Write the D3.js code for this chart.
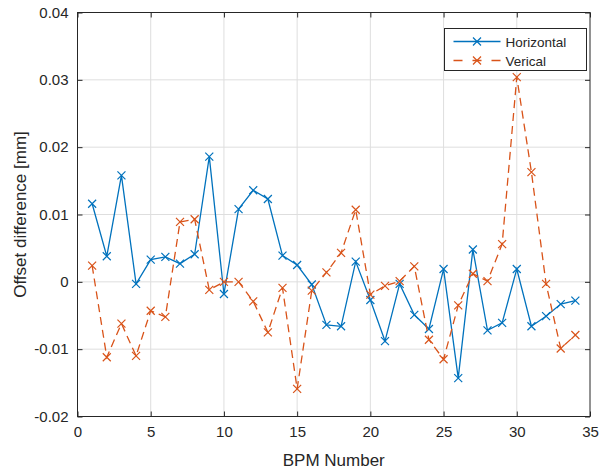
<!DOCTYPE html>
<html>
<head>
<meta charset="utf-8">
<script src="https://cdn.jsdelivr.net/npm/d3@7"></script>
<style>
  body { margin: 0; background: #fff; }
  text { font-family: "Liberation Sans", Arial, sans-serif; fill: #262626; }
</style>
</head>
<body>
<div id="chart"></div>
<script>
var bpm = d3.range(1, 35);

var horizontal = [0.0116, 0.0038, 0.0158, -0.0003, 0.0033, 0.0037, 0.0027, 0.0041, 0.0186, -0.0018,
  0.0108, 0.0136, 0.0123, 0.0039, 0.0025, -0.0004, -0.0064, -0.0066, 0.0030, -0.0027,
  -0.0088, -0.0003, -0.0049, -0.0070, 0.0019, -0.0143, 0.0048, -0.0072, -0.0061, 0.0019,
  -0.0066, -0.0051, -0.0033, -0.0028];

var vertical = [0.0024, -0.0112, -0.0062, -0.0110, -0.0043, -0.0052, 0.0089, 0.0093, -0.0012, 0.0000,
  0.0000, -0.0029, -0.0075, -0.0009, -0.0159, -0.0013, 0.0014, 0.0043, 0.0107, -0.0019,
  -0.0006, 0.0001, 0.0023, -0.0086, -0.0115, -0.0035, 0.0012, 0.0001, 0.0056, 0.0304,
  0.0163, -0.0003, -0.0099, -0.0079];

var xTicks = [0, 5, 10, 15, 20, 25, 30, 35];
var yTicks = [-0.02, -0.01, 0, 0.01, 0.02, 0.03, 0.04];
var yTickLabels = ["-0.02", "-0.01", "0", "0.01", "0.02", "0.03", "0.04"];

var svgWidth = 600;
var svgHeight = 473;
var margin = { top: 12.5, right: 10, bottom: 56.5, left: 77.5 };
var width = svgWidth - margin.left - margin.right;
var height = svgHeight - margin.top - margin.bottom;

var svg = d3.select("#chart").append("svg")
  .attr("width", svgWidth)
  .attr("height", svgHeight);

var chartGroup = svg.append("g")
  .attr("transform", `translate(${margin.left}, ${margin.top})`);

var xScale = d3.scaleLinear().domain([0, 35]).range([0, width]);
var yScale = d3.scaleLinear().domain([-0.02, 0.04]).range([height, 0]);

// grid
chartGroup.append("g").selectAll("line")
  .data(xTicks.slice(1, -1))
  .enter().append("line")
  .attr("x1", d => xScale(d)).attr("x2", d => xScale(d))
  .attr("y1", 0).attr("y2", height)
  .attr("stroke", "#dedede").attr("stroke-width", 1);

chartGroup.append("g").selectAll("line")
  .data(yTicks.slice(1, -1))
  .enter().append("line")
  .attr("x1", 0).attr("x2", width)
  .attr("y1", d => yScale(d)).attr("y2", d => yScale(d))
  .attr("stroke", "#dedede").attr("stroke-width", 1);

// axes (ticks inside, box on)
function styleAxis(g) {
  g.select(".domain").remove();
  g.selectAll("line").attr("stroke", "#262626");
  g.selectAll("text").style("font-size", "15px").attr("fill", "#262626");
}

chartGroup.append("g")
  .attr("transform", `translate(0, ${height})`)
  .call(d3.axisBottom(xScale).tickValues(xTicks).tickSizeInner(-5).tickSizeOuter(0).tickPadding(10))
  .call(styleAxis);

chartGroup.append("g")
  .call(d3.axisTop(xScale).tickValues(xTicks).tickSizeInner(-5).tickSizeOuter(0).tickFormat(""))
  .call(styleAxis);

chartGroup.append("g")
  .call(d3.axisLeft(yScale).tickValues(yTicks).tickSizeInner(-5).tickSizeOuter(0).tickPadding(9)
    .tickFormat((d, i) => yTickLabels[i]))
  .call(styleAxis);

chartGroup.append("g")
  .attr("transform", `translate(${width}, 0)`)
  .call(d3.axisRight(yScale).tickValues(yTicks).tickSizeInner(-5).tickSizeOuter(0).tickFormat(""))
  .call(styleAxis);

chartGroup.append("rect")
  .attr("width", width).attr("height", height)
  .attr("fill", "none").attr("stroke", "#262626").attr("stroke-width", 1);

// series
var series = [
  { name: "Horizontal", values: horizontal, color: "#0072BD", dash: null },
  { name: "Verical", values: vertical, color: "#D95319", dash: "8,5" }
];

var line = d3.line()
  .x((d, i) => xScale(bpm[i]))
  .y(d => yScale(d));

function xMarker(g, cx, cy, color) {
  var s = 4;
  g.append("path")
    .attr("d", `M${cx - s},${cy - s}L${cx + s},${cy + s}M${cx - s},${cy + s}L${cx + s},${cy - s}`)
    .attr("stroke", color).attr("stroke-width", 1.2).attr("fill", "none");
}

series.forEach(function(s) {
  chartGroup.append("path")
    .datum(s.values)
    .attr("d", line)
    .attr("fill", "none")
    .attr("stroke", s.color)
    .attr("stroke-width", 1.3)
    .attr("stroke-dasharray", s.dash);

  var mg = chartGroup.append("g");
  s.values.forEach(function(v, i) {
    xMarker(mg, xScale(bpm[i]), yScale(v), s.color);
  });
});

// axis labels
svg.append("text")
  .attr("x", margin.left + width / 2)
  .attr("y", 466)
  .attr("text-anchor", "middle")
  .style("font-size", "17px")
  .text("BPM Number");

svg.append("text")
  .attr("transform", `translate(26, ${margin.top + height / 2}) rotate(-90)`)
  .attr("text-anchor", "middle")
  .style("font-size", "17px")
  .text("Offset difference [mm]");

// legend
var legend = svg.append("g").attr("transform", "translate(444.5, 28.5)");
legend.append("rect")
  .attr("width", 142).attr("height", 42)
  .attr("fill", "#fff").attr("stroke", "#262626").attr("stroke-width", 1);

series.forEach(function(s, i) {
  var ly = 13 + i * 19;
  legend.append("line")
    .attr("x1", 9).attr("x2", 56).attr("y1", ly).attr("y2", ly)
    .attr("stroke", s.color).attr("stroke-width", 1.3)
    .attr("stroke-dasharray", s.dash ? "9,10" : null);
  xMarker(legend, 32.5, ly, s.color);
  legend.append("text")
    .attr("x", 61).attr("y", ly + 5)
    .style("font-size", "13.5px")
    .text(s.name);
});
</script>
</body>
</html>
